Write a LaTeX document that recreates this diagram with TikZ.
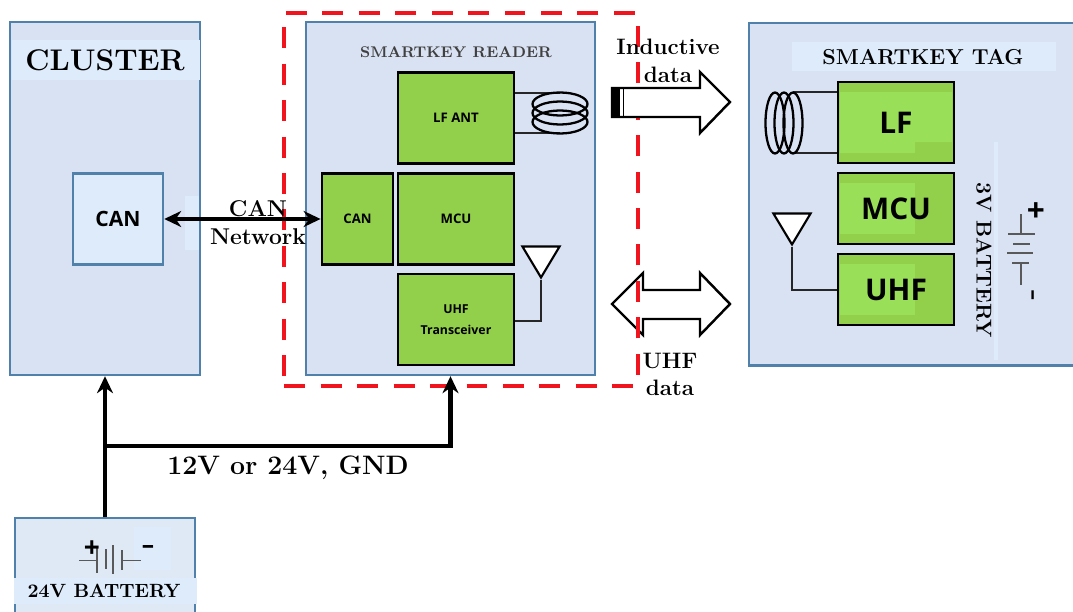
\documentclass[tikz,border=0pt]{standalone}
\usepackage{fontspec}
\setsansfont{Open Sans}
\usetikzlibrary{
    arrows.meta,
    shapes.geometric
}
\definecolor{panel}{HTML}{D9E2F3}
\definecolor{panelline}{HTML}{4F81AB}
\definecolor{patch}{HTML}{DEEBFB}
\definecolor{battpanel}{HTML}{DEE9F5}
\definecolor{chip}{HTML}{92CF4B}
\definecolor{chiplight}{HTML}{9ADF58}
\definecolor{framered}{HTML}{F0141E}
\tikzset{
    % Large block style
    panelbox/.style={
        rectangle,
        draw=panelline,
        fill=#1,
        line width=1.4pt,
        inner sep=0pt
    },
    % Green module style
    chipbox/.style={
        rectangle,
        draw=black,
        fill=chip,
        line width=1.6pt,
        align=center,
        inner sep=0pt,
        font=\fontsize{#1}{#1}\selectfont\sffamily\bfseries
    },
    % Text of a tag module
    chiptext/.style={
        inner sep=0pt,
        font=\fontsize{17}{17}\selectfont\sffamily\bfseries
    },
    % Light strips over the blocks
    patchbox/.style={
        rectangle,
        fill=patch,
        inner sep=0pt
    },
    % Serif label style
    serif label/.style={
        font=\fontsize{#1}{#1}\selectfont\bfseries,
        align=center,
        inner sep=0pt
    },
    % Thick arrow styles
    bus/.style={
        -{Stealth[length=3.4mm, width=3.2mm]},
        line width=2.5pt,
        color=black
    },
    % Thin wire style
    wire/.style={
        line width=0.8pt,
        color=black!85
    },
    coil/.style={
        line width=1.3pt,
        color=black
    },
    % Antenna style
    aerial/.style={
        draw=black,
        fill=white,
        line width=1.2pt
    },
    % Cell of a battery
    cell/.style={
        line width=0.8pt,
        color=black!65
    },
    % Block arrow style
    datapipe/.style={
        draw=black,
        fill=white,
        line width=1.4pt,
        line join=miter
    }
}
\begin{document}
\begin{tikzpicture}[x=0.02cm, y=-0.02cm]
    \useasboundingbox (0,0) rectangle (1073,612);

    % Cluster
    \node[panelbox=panel, minimum width=3.8cm, minimum height=7.06cm] (cluster) at (105,198.5) {};
    \node[patchbox, minimum width=3.76cm, minimum height=0.8cm] (clusterstrip) at (106,60) {};
    \node[patchbox, minimum width=0.3cm, minimum height=1.1cm] (canstrip) at (192,223) {};
    \node[serif label=17] (clustertext) at (105,60) {CLUSTER};
    \node[panelbox=patch, minimum width=1.8cm, minimum height=1.82cm, font=\fontsize{12}{12}\selectfont\sffamily\bfseries] (clustercan) at (118,219) {CAN};

    % Reader
    \node[panelbox=panel, minimum width=5.78cm, minimum height=7.06cm] (reader) at (450.5,198.5) {};
    \node[serif label=8.8, text=black!75] (readertext) at (456,52) {SMARTKEY READER};
    \node[chipbox=7.5, minimum width=2.32cm, minimum height=1.82cm] (readerlf) at (456,118) {LF ANT};
    \node[chipbox=7.5, minimum width=1.42cm, minimum height=1.82cm] (readercan) at (357.5,219) {CAN};
    \node[chipbox=7.5, minimum width=2.32cm, minimum height=1.82cm] (readermcu) at (456,219) {MCU};
    \node[chipbox=7, minimum width=2.32cm, minimum height=1.82cm] (readeruhf) at (456,319.5) {UHF\\[5pt]Transceiver};

    % Reader coil and antenna
    \coordinate (readercoil) at (560,93);
    \draw[wire] (readerlf.east |- readercoil) -- (readercoil);
    \draw[wire] (readerlf.east |- 0,133) -- (560,133);
    \foreach \y in {104,113,122} {
        \draw[coil] (560,\y) ellipse (27.5 and 11.5);
    }
    \node[aerial, isosceles triangle, shape border rotate=-90, isosceles triangle apex angle=62, minimum height=0.62cm, inner sep=0pt] (readerant) at (541,257) {};
    \draw[wire] (readerant.apex) |- (readeruhf.east |- 0,321);

    % Tag
    \node[panelbox=panel, minimum width=7cm, minimum height=6.86cm, anchor=north west] (tag) at (748,21.5) {};
    \node[patchbox, minimum width=5.28cm, minimum height=0.58cm] (tagstrip) at (924,56.5) {};
    \node[patchbox, minimum width=0.08cm, minimum height=4.36cm] (batstrip) at (996,251) {};
    \node[serif label=12.3] (tagtext) at (923,57) {SMARTKEY TAG};
    \node[chipbox=17, minimum width=2.32cm, minimum height=1.62cm] (taglf) at (896,122.5) {};
    \node[chipbox=17, minimum width=2.32cm, minimum height=1.42cm] (tagmcu) at (896,208.5) {};
    \node[chipbox=17, minimum width=2.32cm, minimum height=1.42cm] (taguhf) at (896,289.5) {};
    \fill[chiplight] (840,92) -- (952,92) -- (952,142) -- (915,142) -- (915,153) -- (840,153) -- cycle;
    \fill[chiplight] (840,183) rectangle (915,234);
    \fill[chiplight] (840,264) rectangle (915,315);
    \node[chiptext] (taglftext) at (taglf) {LF};
    \node[chiptext] (tagmcutext) at (tagmcu) {MCU};
    \node[chiptext] (taguhftext) at (taguhf) {UHF};

    % Tag coil and antenna
    \coordinate (tagcoil) at (793,92);
    \draw[wire] (tagcoil) -- (taglf.west |- tagcoil);
    \draw[wire] (793,153) -- (taglf.west |- 0,153);
    \foreach \x in {775,784,793} {
        \draw[coil] (\x,123) ellipse (9.5 and 30.5);
    }
    \node[aerial, isosceles triangle, shape border rotate=-90, isosceles triangle apex angle=62, minimum height=0.62cm, inner sep=0pt] (tagant) at (792,224) {};
    \draw[wire] (tagant.apex) |- (taguhf.west |- 0,290);

    % 3V battery
    \node[serif label=12.2, rotate=-90] (tagbat) at (984,260) {3V BATTERY};
    \draw[cell] (1021,214) -- (1021,234);
    \draw[cell, line width=1.1pt] (1008,234) -- (1035,234);
    \draw[cell] (1013,244) -- (1030,244);
    \draw[cell] (1007,253) -- (1033,253);
    \draw[cell] (1012,263) -- (1029,263);
    \draw[cell] (1021,263) -- (1021,285);
    \node[font=\fontsize{18}{18}\selectfont\sffamily\bfseries, inner sep=0pt] (tagplus) at (1036,212) {+};
    \node[font=\fontsize{12}{12}\selectfont\sffamily\bfseries, inner sep=0pt, rotate=90] (tagminus) at (1035,295) {--};

    % Data arrows and frame
    \draw[datapipe] (612,304) -- (643,273) -- (643,290) -- (700,290) -- (700,273) -- (730,304) -- (700,335) -- (700,319) -- (643,319) -- (643,335) -- cycle;
    \node[draw=framered, line width=2.8pt, dash pattern=on 0.42cm off 0.31cm, minimum width=7.08cm, minimum height=7.46cm] (frame) at (461,199.5) {};
    \draw[datapipe] (612,88) -- (700,88) -- (700,72) -- (730,102) -- (700,133) -- (700,117) -- (612,117) -- cycle;
    \fill[black] (612,87) rectangle (620,118);
    \draw[line width=1pt] (623.5,87) -- (623.5,118);

    % Battery
    \node[panelbox=battpanel, minimum width=3.6cm, minimum height=2.5cm, anchor=north] (batt) at (105,517) {};
    \node[patchbox, minimum width=0.74cm, minimum height=0.86cm] (battstrip) at (152.5,548.5) {};
    \node[patchbox, minimum width=3.66cm, minimum height=0.52cm] (battlabelstrip) at (105.5,591) {};
    \node[serif label=10.9] (batttext) at (104,591) {24V BATTERY};
    \draw[cell] (79,560.5) -- (97,560.5);
    \draw[cell] (97,546) -- (97,573);
    \draw[cell, line width=1.1pt] (106,549) -- (106,569);
    \draw[cell] (113,545) -- (113,574);
    \draw[cell, line width=1.1pt] (122,550) -- (122,570);
    \draw[cell] (122,560.5) -- (141,560.5);
    \node[font=\fontsize{16}{16}\selectfont\sffamily\bfseries, inner sep=0pt] (battplus) at (92,549) {+};
    \node[font=\fontsize{14}{14}\selectfont\sffamily\bfseries, inner sep=0pt] (battminus) at (148,549) {--};

    % Connections
    \draw[bus, {Stealth[length=3.4mm, width=3.2mm]}-{Stealth[length=3.4mm, width=3.2mm]}] (clustercan) -- (readercan);
    \coordinate (junction) at (105,446);
    \draw[bus] (batt) -- (cluster);
    \draw[bus] (junction) -| (reader.south);

    % Labels over the lines
    \node[serif label=13] (canlabel) at (258,223) {CAN\\[3pt]Network};
    \node[serif label=15.2] (powerlabel) at (288,468) {12V or 24V, GND};
    \node[serif label=12.7] (lfdata) at (668,61) {Inductive\\[3pt]data};
    \node[serif label=12.7] (uhfdata) at (670,374.5) {UHF\\[3pt]data};
\end{tikzpicture}
\end{document}
